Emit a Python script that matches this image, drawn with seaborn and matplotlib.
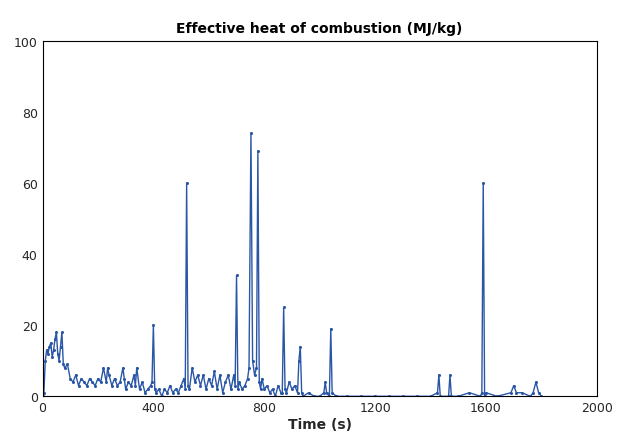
import matplotlib
matplotlib.use("Agg")
import matplotlib.pyplot as plt
import seaborn as sns
import pandas as pd

# (time s, effective heat MJ/kg)
points = [
    (0, 0), (5, 1), (10, 10), (15, 13), (20, 12), (25, 14), (30, 15), (35, 11), (40, 13), (45, 16),
    (50, 18), (55, 12), (60, 10), (65, 14), (70, 18), (75, 9), (80, 8), (90, 9), (100, 5), (110, 4),
    (120, 6), (130, 3), (140, 5), (150, 4), (160, 3), (170, 5), (180, 4), (190, 3), (200, 5), (210, 4),
    (220, 8), (230, 4), (235, 8), (240, 6), (250, 3), (260, 5), (270, 3), (280, 4), (290, 8), (295, 5),
    (300, 2), (310, 4), (320, 3), (330, 6), (335, 3), (340, 8), (350, 2), (360, 4), (370, 1), (380, 2),
    (390, 3), (395, 4), (400, 20), (405, 2), (410, 1), (420, 2), (430, 0), (440, 2), (450, 1), (460, 3),
    (470, 1), (480, 2), (490, 1), (500, 3), (510, 5), (515, 2), (520, 60), (525, 3), (530, 2), (540, 8),
    (550, 4), (560, 6), (570, 3), (580, 6), (590, 2), (600, 5), (610, 3), (620, 7), (630, 2), (640, 6),
    (650, 1), (660, 4), (670, 6), (680, 2), (690, 6), (695, 3), (700, 34), (705, 2), (710, 4), (720, 2),
    (730, 3), (740, 5), (745, 8), (752, 74), (758, 10), (765, 6), (772, 8), (777, 69), (782, 4), (787, 2),
    (792, 5), (800, 2), (810, 3), (820, 1), (830, 2), (840, 0), (850, 3), (860, 1), (865, 1), (870, 25),
    (875, 2), (880, 1), (890, 4), (900, 2), (910, 3), (920, 1), (925, 10), (930, 14), (935, 1), (940, 0),
    (960, 1), (980, 0), (1000, 0), (1015, 1), (1020, 4), (1025, 1), (1035, 0), (1040, 19), (1045, 1),
    (1060, 0), (1100, 0), (1150, 0), (1200, 0), (1250, 0), (1300, 0), (1350, 0), (1400, 0), (1425, 1),
    (1430, 6), (1435, 0), (1465, 0), (1470, 6), (1475, 0), (1500, 0), (1540, 1), (1580, 0), (1585, 1),
    (1590, 60), (1595, 0), (1600, 1), (1640, 0), (1690, 1), (1700, 3), (1710, 1), (1730, 1), (1760, 0),
    (1770, 1), (1780, 4), (1790, 1), (1800, 0),
]
time_s = [p[0] for p in points]
heat_mjkg = [p[1] for p in points]

df = pd.DataFrame({"t": time_s, "h": heat_mjkg})
sns.set_style("white")
fig, ax = plt.subplots(figsize=(6.25, 4.39), dpi=100)
sns.lineplot(data=df, x="t", y="h", ax=ax, color="#2a56a6", linewidth=1.0,
             marker="o", markersize=2.2, markeredgewidth=0)
ax.set_xlim(0, 2000)
ax.set_ylim(0, 100)
ax.set_xticks([0, 400, 800, 1200, 1600, 2000])
ax.set_yticks([0, 20, 40, 60, 80, 100])
ax.set_xlabel("Time (s)", fontweight="bold", fontsize=10, labelpad=2)
ax.set_ylabel("")
ax.set_title("Effective heat of combustion (MJ/kg)", fontweight="bold", fontsize=10, color="black")
ax.tick_params(labelsize=9, length=3, direction="in")
for s in ax.spines.values():
    s.set_color("black"); s.set_linewidth(0.8)
plt.subplots_adjust(left=0.068, right=0.955, top=0.905, bottom=0.095)
fig.savefig("out.png")
